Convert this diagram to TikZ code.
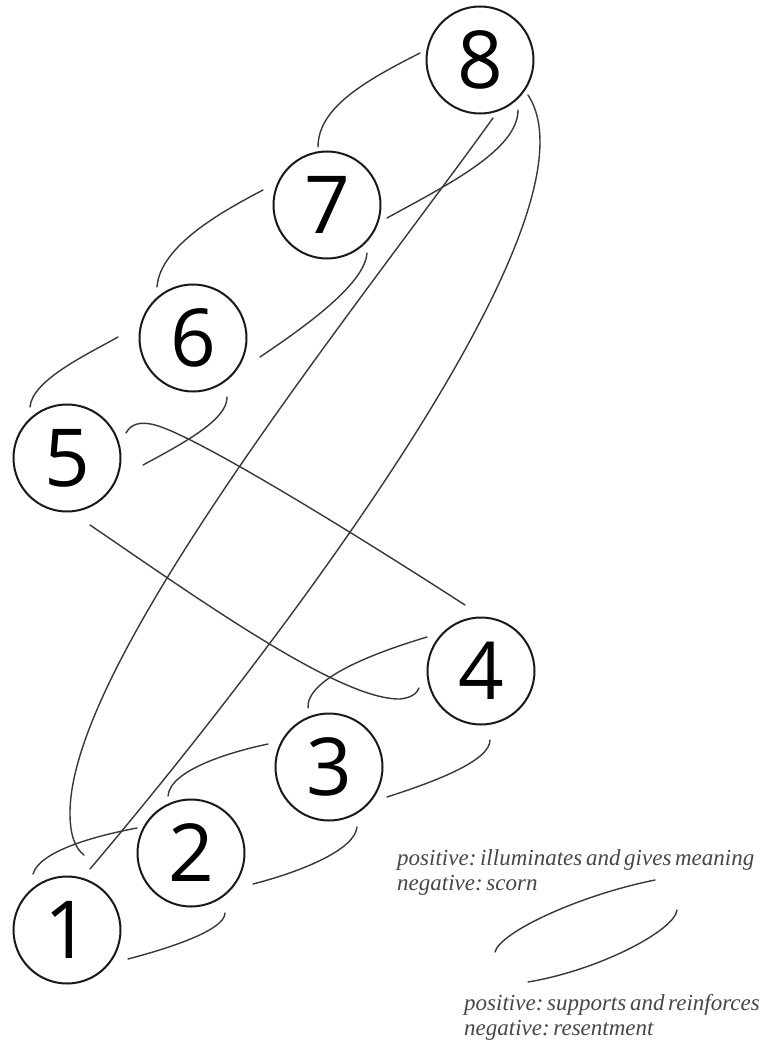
\documentclass[tikz,border=0pt]{standalone}
\usepackage{fontspec}
\setmainfont{Liberation Serif}
\newfontfamily\digitfont{Open Sans}
\newcommand\lblfont{\itshape\fontsize{23}{23}\selectfont\frenchspacing\spaceskip=0.16em\relax}
\usetikzlibrary{calc}
\begin{document}
\begin{tikzpicture}[x=1pt,y=-1pt,
  num/.style={circle, draw=black!90, line width=2pt, minimum size=107pt, inner sep=0pt,
              font=\digitfont\fontsize{80}{80}\selectfont},
  link/.style={draw=black!78, line width=1.4pt, line cap=round},
  lbl/.style={anchor=base west, text=black!72, inner sep=0pt, font=\lblfont}]
\fill[white] (0,0) rectangle (760,1046);
\useasboundingbox (0,0) rectangle (760,1046);

% nodes
\node[num] (n8) at (480,60) {8};
\node[num] (n7) at (327,205) {7};
\node[num] (n6) at (193,338) {6};
\node[num] (n5) at (67,458) {5};
\node[num] (n4) at (481,671) {4};
\node[num] (n3) at (329,767) {3};
\node[num] (n2) at (191,853) {2};
\node[num] (n1) at (67,930) {1};

% 8 - 7
\draw[link] ($(n8.center)+(-60,-7)$) .. controls (367,80) and (318,107) .. ($(n7.center)+(-9,-58)$);
\draw[link] ($(n8.center)+(38,50)$) .. controls (518,150) and (447,185) .. ($(n7.center)+(60,13)$);
% 7 - 6
\draw[link] ($(n7.center)+(-64,-15)$) .. controls (225,210) and (160,245) .. ($(n6.center)+(-36,-51)$);
\draw[link] ($(n7.center)+(40,48)$) .. controls (365,285) and (300,330) .. ($(n6.center)+(67,19)$);
% 6 - 5
\draw[link] ($(n6.center)+(-75,-1)$) .. controls (88,354) and (32,380) .. ($(n5.center)+(-37,-51)$);
\draw[link] ($(n6.center)+(34,59)$) .. controls (228,420) and (180,445) .. ($(n5.center)+(76,7)$);
% 5 - 4
\draw[link] ($(n5.center)+(59,-25)$) .. controls (131,424) and (140,421) .. (155,425)
            .. controls (200,437) and (380,550) .. ($(n4.center)+(-16,-66)$);
\draw[link] ($(n5.center)+(23,67)$) .. controls (200,600) and (340,700) .. (400,699)
            .. controls (410,698) and (417,694) .. ($(n4.center)+(-62,17)$);
% 4 - 3
\draw[link] ($(n4.center)+(-54,-34)$) .. controls (377,652) and (306,678) .. ($(n3.center)+(-21,-59)$);
\draw[link] ($(n4.center)+(9,69)$) .. controls (490,760) and (440,780) .. ($(n3.center)+(58,30)$);
% 3 - 2
\draw[link] ($(n3.center)+(-61,-23)$) .. controls (230,752) and (170,770) .. ($(n2.center)+(-23,-57)$);
\draw[link] ($(n3.center)+(28,60)$) .. controls (355,850) and (300,872) .. ($(n2.center)+(62,31)$);
% 2 - 1
\draw[link] ($(n2.center)+(-54,-25)$) .. controls (100,835) and (40,850) .. ($(n1.center)+(-34,-56)$);
\draw[link] ($(n2.center)+(34,60)$) .. controls (225,930) and (170,948) .. ($(n1.center)+(61,29)$);
% 8 - 1
\draw[link] ($(n8.center)+(13,58)$) .. controls (349,318) and (70,663) .. (70,813)
            .. controls (70,835) and (75,848) .. ($(n1.center)+(17,-75)$);
\draw[link] ($(n8.center)+(48,35)$) .. controls (610,220) and (250,680) .. ($(n1.center)+(23,-61)$);

% legend
\coordinate (la) at (495,952);
\coordinate (lb) at (655,880);
\coordinate (lc) at (677,910);
\coordinate (ld) at (528,982);
\draw[link] (la) .. controls (500,932) and (580,895) .. (lb);
\draw[link] (lc) .. controls (675,930) and (600,970) .. (ld);

\node[lbl] (t1) at (397,865) {positive: illuminates and gives meaning};
\node[lbl] (t2) at (397,890) {negative: scorn};
\node[lbl] (t3) at (464,1010) {positive: supports and reinforces};
\node[lbl] (t4) at (464,1035) {negative: resentment};
\end{tikzpicture}
\end{document}
